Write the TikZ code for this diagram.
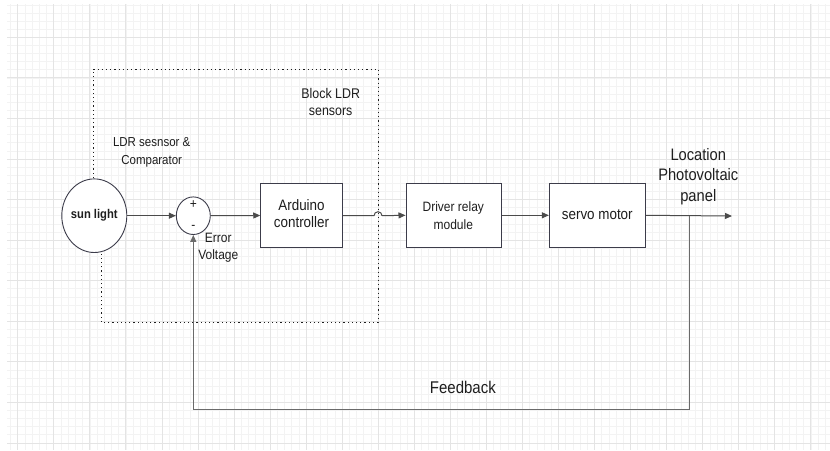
\documentclass[tikz,border=0pt]{standalone}
\usepackage{fontspec}
\setmainfont{Liberation Sans}
\usetikzlibrary{arrows.meta,shapes.geometric}
\definecolor{gmin}{HTML}{F3F3F3}
\definecolor{gmaj}{HTML}{E4E4E4}
\definecolor{ink}{HTML}{1E1E1E}
\definecolor{edge}{HTML}{3C3C4A}
\definecolor{fb}{HTML}{6A6A6A}
\newcommand{\vs}[1]{\scalebox{1}[1.13]{\begin{tabular}{@{}c@{}}#1\end{tabular}}}
\tikzset{
  blk/.style={draw=edge, line width=0.9pt, fill=white, inner sep=0pt},
  lbl/.style={text=ink, inner sep=0pt},
  conn/.style={draw=ink!80, line width=1pt},
  arr/.style={conn, -{Triangle[length=7pt,width=6pt]}},
  dotbox/.style={draw=ink, line width=0.8pt, dash pattern=on 1.2pt off 3pt},
}
\begin{document}
\begin{tikzpicture}[x=1pt,y=-1pt]
\useasboundingbox (0,0) rectangle (830,450);
\fill[white] (0,0) rectangle (830,450);
% grid
\begin{scope}
\clip (7,4) rectangle (830,450);
\foreach \k in {-2,...,113} {
  \draw[gmin, line width=0.6pt] ({17.7+7.21*\k},4) -- ({17.7+7.21*\k},450);
}
\foreach \k in {-5,...,52} {
  \draw[gmin, line width=0.6pt] (7,{37.3+8.11*\k}) -- (830,{37.3+8.11*\k});
}
\foreach \k in {0,...,22} {
  \draw[gmaj, line width=0.8pt] ({17.7+36.05*\k},4) -- ({17.7+36.05*\k},450);
}
\foreach \k in {-1,...,10} {
  \draw[gmaj, line width=0.8pt] (7,{37.3+40.56*\k}) -- (830,{37.3+40.56*\k});
}
\end{scope}

% dotted block
\coordinate (d1) at (93,215.7);
\coordinate (d2) at (93,69);
\coordinate (d3) at (378,69);
\coordinate (d4) at (378,322);
\coordinate (d5) at (101,322);
\coordinate (d6) at (101,215.7);
\draw[dotbox] (d1) -- (d2) -- (d3) -- (d4) -- (d5) -- (d6);

% nodes
\node[blk, ellipse, minimum width=65pt, minimum height=73.6pt] (sun) at (94.3,215.7) {};
\node[lbl, font=\bfseries\fontsize{11.2}{13}\selectfont] at (sun) {\vs{sun light}};

\node[blk, ellipse, minimum width=34pt, minimum height=37.6pt] (cmp) at (193.3,215.7) {};
\node[lbl, font=\fontsize{12}{14}\selectfont] at (193.3,205.2) {\vs{+}};
\node[lbl, font=\fontsize{12}{14}\selectfont] at (193.3,226.2) {\vs{-}};

\node[blk, minimum width=81.6pt, minimum height=64.4pt] (ard) at (301.5,215.5) {};
\node[lbl, font=\fontsize{13.4}{15.4}\selectfont] at (ard) {\vs{Arduino\\controller}};

\node[blk, minimum width=95.7pt, minimum height=64pt] (drv) at (453.8,215.3) {};
\node[lbl, font=\fontsize{12}{15.3}\selectfont] at (453.3,217) {\vs{Driver relay\\module}};

\node[blk, minimum width=96pt, minimum height=64pt] (srv) at (597.3,215.3) {};
\node[lbl, font=\fontsize{13.4}{15.4}\selectfont] at (597.3,216.5) {\vs{servo motor}};

% labels
\node[lbl, font=\fontsize{11.5}{15.4}\selectfont] at (151.7,152) {\vs{LDR sesnsor \&\\Comparator}};
\node[lbl, font=\fontsize{12.4}{15.4}\selectfont] at (330.7,103.6) {\vs{Block LDR\\sensors}};
\node[lbl, font=\fontsize{12}{14.8}\selectfont] at (218.3,247.6) {\vs{Error\\Voltage}};
\node[lbl, font=\fontsize{14.7}{18.3}\selectfont] at (698.3,176.8) {\vs{Location\\Photovoltaic\\panel}};
\node[lbl, font=\fontsize{15}{17}\selectfont] (fbl) at (462.9,389.3) {\vs{Feedback}};

% connectors
\coordinate (j1) at (374,215.7);
\coordinate (j2) at (382,215.7);
\coordinate (tap) at (689.3,216);
\coordinate (out) at (732,216);
\coordinate (fbr) at (689.3,409.6);
\coordinate (fbl2) at (193.3,409.6);

\draw[arr] (sun.east) -- (cmp.west);
\draw[arr] (cmp.east) -- (ard.west);
\draw[conn] (ard.east) -- (j1) arc[start angle=180, end angle=360, radius=4] -- (j2);
\draw[arr] (j2) -- (drv.west);
\draw[arr] (drv.east) -- (srv.west);
\draw[arr] (srv.east) -- (out);
\draw[draw=fb, line width=1.1pt] (tap) -- (fbr) -- (fbl2);
\draw[draw=fb, line width=1.1pt, -{Triangle[length=7pt,width=6pt]}] (fbl2) -- (cmp.south);
\end{tikzpicture}
\end{document}
